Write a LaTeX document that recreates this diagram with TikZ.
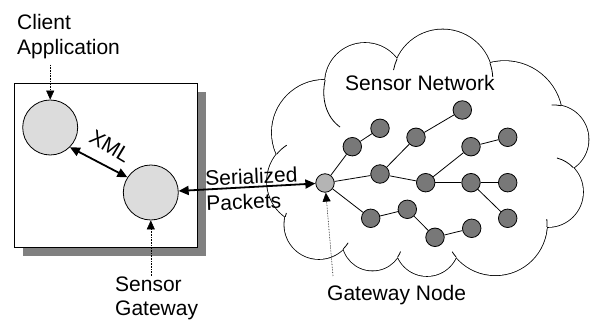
\documentclass[tikz,border=0pt]{standalone}
\usepackage{fontspec}
\setmainfont{Liberation Sans}
\usetikzlibrary{arrows.meta}
\definecolor{shadowgray}{RGB}{128,128,128}
\definecolor{lightc}{RGB}{220,220,220}
\definecolor{gwc}{RGB}{180,180,180}
\definecolor{darkc}{RGB}{120,120,120}
\begin{document}
\begin{tikzpicture}[x=1pt,y=-1pt,
  lbl/.style={font=\fontsize{21}{25}\selectfont, inner sep=0pt, anchor=base west},
  bigc/.style={circle, draw, line width=0.8pt, fill=lightc, minimum size=55pt, inner sep=0pt},
  gwnode/.style={circle, draw, line width=0.8pt, fill=gwc, minimum size=18.5pt, inner sep=0pt},
  snode/.style={circle, draw, line width=0.8pt, fill=darkc, minimum size=18.5pt, inner sep=0pt},
  link/.style={line width=0.8pt},
  thickarrow/.style={line width=1.8pt, {Triangle[length=10pt,width=9pt]}-{Triangle[length=10pt,width=9pt]}},
  pointer/.style={densely dotted, line width=0.6pt, -{Triangle[length=9pt,width=8pt]}},
  cloudline/.style={line width=0.8pt}]
\useasboundingbox (0,0) rectangle (592,320);

% ---------- cloud ----------
\foreach \cx/\cy/\r in {365/83/40, 442.7/79.6/50.1, 504.6/119/57.9, 554.1/139.4/34.4,
  547.9/191.9/35.1, 495.4/223.6/51.6, 427/244.1/31.9, 372.5/240.2/30.3,
  318.9/224.5/34.5, 310.3/181.5/43.3, 324.5/132.5/52.6}
  \draw[line width=1.6pt] (\cx,\cy) circle (\r);
\foreach \cx/\cy/\r in {365/83/40, 442.7/79.6/50.1, 504.6/119/57.9, 554.1/139.4/34.4,
  547.9/191.9/35.1, 495.4/223.6/51.6, 427/244.1/31.9, 372.5/240.2/30.3,
  318.9/224.5/34.5, 310.3/181.5/43.3, 324.5/132.5/52.6}
  \fill[white] (\cx,\cy) circle (\r);
\fill[white] (365,83) -- (442.7,79.6) -- (504.6,119) -- (554.1,139.4) -- (547.9,191.9)
  -- (495.4,223.6) -- (427,244.1) -- (372.5,240.2) -- (318.9,224.5) -- (310.3,181.5)
  -- (324.5,132.5) -- cycle;
% inner strokes of the cloud
\draw[cloudline] (325.2,79.9) .. controls (321,98) and (326,117) .. (340,127);
\foreach \cx/\cy/\r/\a/\b in {442.7/79.6/50.1/204.3/191, 442.7/79.6/50.1/-19.3/-3,
  554.1/139.4/34.4/281.5/266, 547.9/191.9/35.1/-43.4/-75, 495.4/223.6/51.6/139.5/147,
  495.4/223.6/51.6/3.7/-5, 372.5/240.2/30.3/33.6/22, 318.9/224.5/34.5/44.7/32,
  318.9/224.5/34.5/192.9/199.5, 310.3/181.5/43.3/219/237}
  \draw[cloudline] (\cx,\cy) ++(\a:\r) arc[start angle=\a, end angle=\b, radius=\r];

\node[lbl] (snet) at (345,90.7) {Sensor Network};

% ---------- application box ----------
\fill[shadowgray] (23,92) rectangle (206,256);
\draw[line width=0.8pt, fill=white] (14,83) rectangle (197,247);

\node[bigc] (client) at (50.2,127.5) {};
\node[bigc] (gw) at (150.8,192.5) {};

% ---------- sensor network ----------
\node[gwnode] (G) at (325,183) {};
\foreach \n/\x/\y in {n1/352.3/146.7, n2/380/128.3, n3/380/174, n4/416/137.3,
  n5/462.3/110, n6/425.7/182.7, n7/471/146.7, n8/507.7/137.3, n9/471/182.7,
  n10/507.7/182.7, n11/507.7/218.3, n12/370.7/218.3, n13/407.3/209.3,
  n14/435/237.3, n15/471.7/228.3}
  \node[snode] (\n) at (\x,\y) {};
\foreach \a/\b in {G/n1, n1/n2, G/n3, n3/n4, n4/n5, n3/n6, n6/n7, n7/n8, n6/n9,
  n9/n10, n9/n11, G/n12, n12/n13, n13/n14, n14/n15}
  \draw[link] (\a) -- (\b);

% ---------- arrows ----------
\draw[thickarrow] (client.-45) -- (gw.147);
\node[font=\fontsize{21}{25}\selectfont, inner sep=0pt, rotate=-31] (xml) at (110,146.5) {XML};

\draw[thickarrow] (gw) -- (G);
\node[lbl, rotate=2.7] (ser) at (205.5,186) {Serialized};
\node[lbl, rotate=2] (pack) at (206.5,210.5) {Packets};

% ---------- labels with pointers ----------
\node[lbl] (cl1) at (17,30) {Client};
\node[lbl] (cl2) at (17,55) {Application};
\coordinate (capt) at (50.2,65);
\draw[pointer] (capt) -- (client.north);

\node[lbl] (sg1) at (115,292) {Sensor};
\node[lbl] (sg2) at (115,315.5) {Gateway};
\coordinate (sgpt) at (150.8,276);
\draw[pointer] (sgpt) -- (gw.south);

\node[lbl] (gn) at (327,301) {Gateway Node};
\coordinate (gnpt) at (333,276);
\draw[pointer] (gnpt) -- (G);
\end{tikzpicture}
\end{document}
